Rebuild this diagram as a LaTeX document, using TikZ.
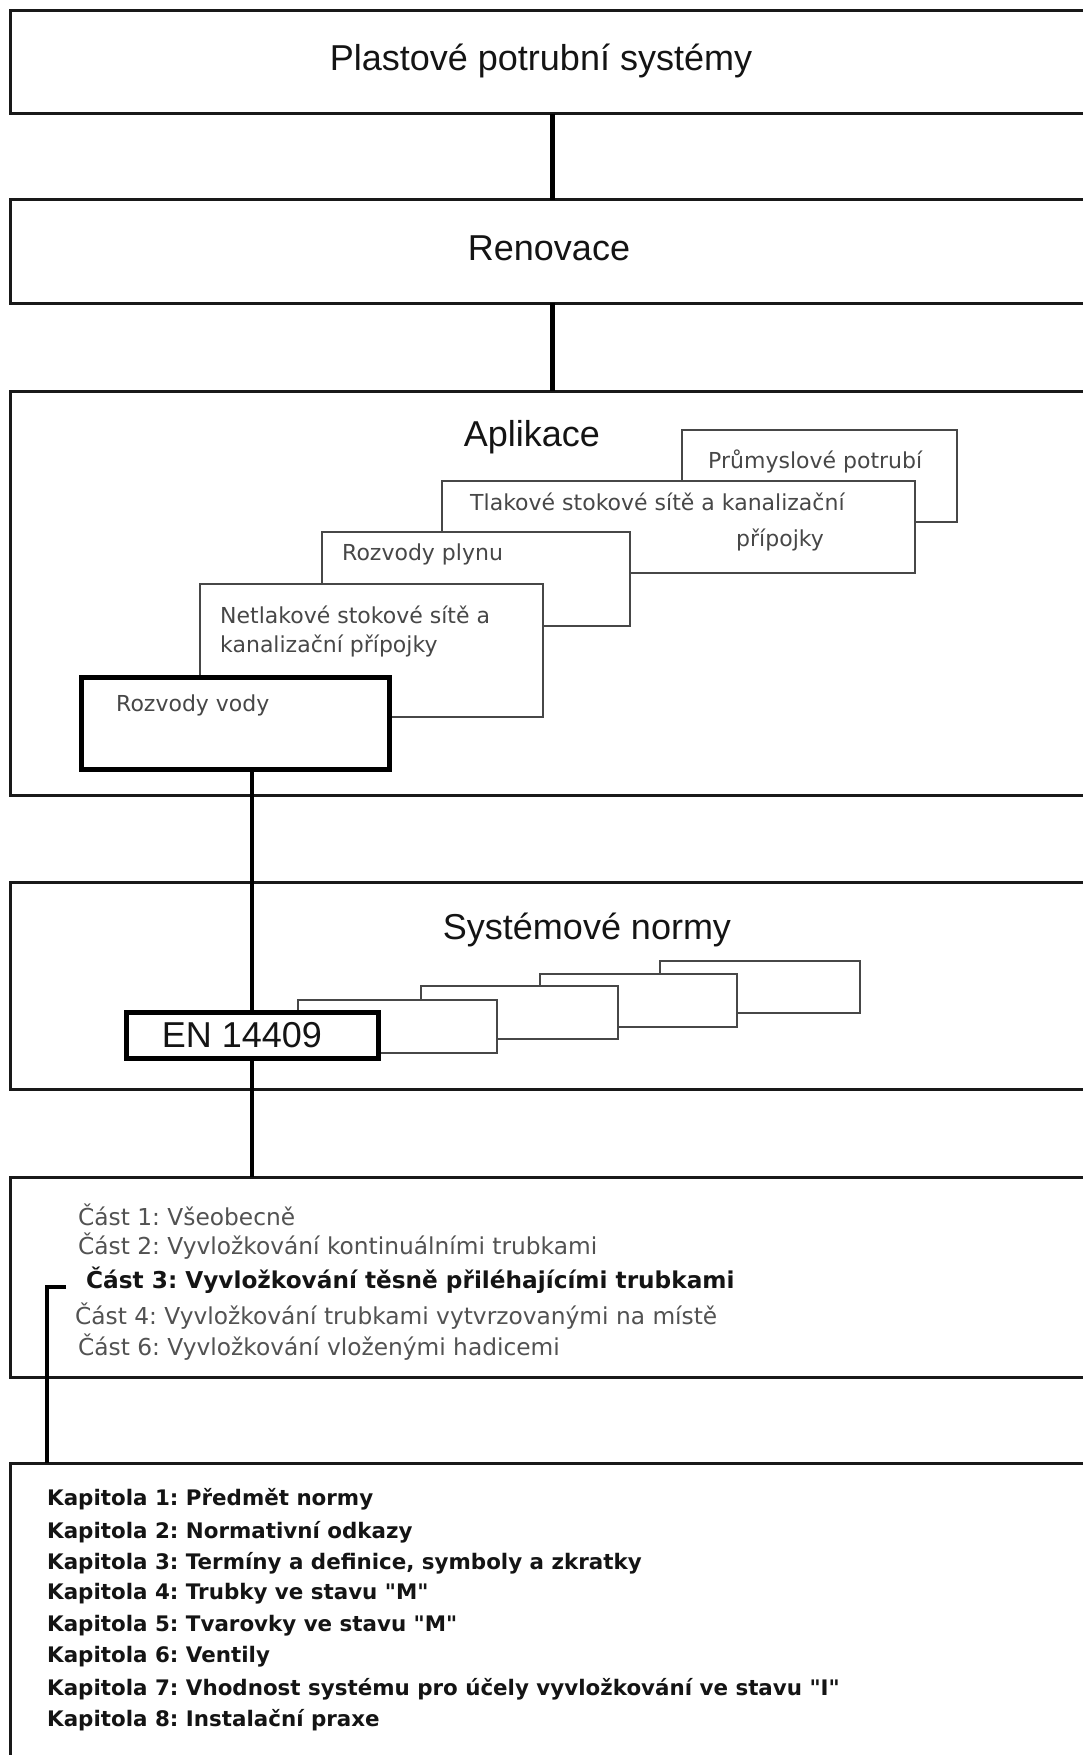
\documentclass[tikz,border=0pt]{standalone}
\usepackage{fontspec}
\setmainfont{Liberation Sans}
\newfontfamily\dvs{DejaVu Sans}
\frenchspacing
\begin{document}
\begin{tikzpicture}[x=1pt,y=-1pt,
  mainbox/.style={draw=black!90, line width=3, fill=white, anchor=north west, inner sep=0, outer sep=0},
  subbox/.style={draw=black!72, line width=2, fill=white, anchor=north west, inner sep=0, outer sep=0},
  keybox/.style={draw=black, line width=5, fill=white, anchor=north west, inner sep=0, outer sep=0},
  conn/.style={line width=4.5, black},
  title/.style={font=\fontsize{36}{40}\selectfont, text=black!92, inner sep=0},
  sublab/.style={font=\dvs\fontsize{22}{26}\selectfont, text=black!72, anchor=west, inner sep=0},
  castlab/.style={font=\dvs\fontsize{23.3}{27}\selectfont, text=black!68, anchor=west, inner sep=0},
  castbold/.style={font=\dvs\bfseries\fontsize{23.2}{27}\selectfont, text=black!92, anchor=west, inner sep=0},
  kaplab/.style={font=\dvs\bfseries\fontsize{21.4}{24}\selectfont, text=black!92, anchor=west, inner sep=0}]
\useasboundingbox (0,0) rectangle (1083,1755);
\clip (0,0) rectangle (1083,1755);
\fill[white] (0,0) rectangle (1083,1755);

% main boxes
\node[mainbox, minimum width=1085, minimum height=103] (b1) at (10,11) {};
\node[mainbox, minimum width=1085, minimum height=103] (b2) at (10,200) {};
\node[mainbox, minimum width=1085, minimum height=404] (b3) at (10,391) {};
\node[mainbox, minimum width=1085, minimum height=207] (b4) at (10,882) {};
\node[mainbox, minimum width=1085, minimum height=200] (b5) at (10,1177) {};
\node[mainbox, minimum width=1085, minimum height=320] (b6) at (10,1463) {};

\node[title] (t1) at (541,61) {Plastové potrubní systémy};
\node[title] (t2) at (549,248) {Renovace};
\node[title] (t3) at (532,437) {Aplikace};
\node[title] (t4) at (587,930) {Systémové normy};

% application boxes (back to front)
\node[subbox, minimum width=275, minimum height=92] (prum) at (682,430) {};
\node[sublab] (prumt) at (708,461) {Průmyslové potrubí};
\node[subbox, minimum width=473, minimum height=92] (tlak) at (442,481) {};
\node[sublab] (tlakt1) at (470,502) {Tlakové stokové sítě a kanalizační};
\node[sublab, anchor=center] (tlakt2) at (780,540) {přípojky};
\node[subbox, minimum width=308, minimum height=94] (plyn) at (322,532) {};
\node[sublab] (plynt) at (342,554) {Rozvody plynu};
\node[subbox, minimum width=343, minimum height=133] (netl) at (200,584) {};
\node[sublab] (netlt1) at (220,615) {Netlakové stokové sítě a};
\node[sublab] (netlt2) at (220,646) {kanalizační přípojky};
\node[keybox, minimum width=308, minimum height=92] (voda) at (81,677) {};
\node[sublab] (vodat) at (116,705) {Rozvody vody};

% system standards boxes (back to front)
\node[subbox, minimum width=200, minimum height=52] (sa) at (660,961) {};
\node[subbox, minimum width=197, minimum height=53] (sb) at (540,974) {};
\node[subbox, minimum width=197, minimum height=53] (sc) at (421,986) {};
\node[subbox, minimum width=199, minimum height=53] (sd) at (298,1000) {};
\node[keybox, minimum width=252, minimum height=46] (en) at (126,1012) {};
\node[title] (ent) at (242,1035) {EN 14409};

% parts
\node[castlab] (c1) at (78,1215) {Část 1: Všeobecně};
\node[castlab] (c2) at (78,1246) {Část 2: Vyvložkování kontinuálními trubkami};
\node[castbold] (c3) at (86,1280) {Část 3: Vyvložkování těsně přiléhajícími trubkami};
\node[castlab] (c4) at (75,1316) {Část 4: Vyvložkování trubkami vytvrzovanými na místě};
\node[castlab] (c6) at (78,1347) {Část 6: Vyvložkování vloženými hadicemi};

% chapters
\node[kaplab] (k1) at (47,1499) {Kapitola 1: Předmět normy};
\node[kaplab] (k2) at (47,1532) {Kapitola 2: Normativní odkazy};
\node[kaplab] (k3) at (47,1563) {Kapitola 3: Termíny a definice, symboly a zkratky};
\node[kaplab] (k4) at (47,1594) {Kapitola 4: Trubky ve stavu "M"};
\node[kaplab] (k5) at (47,1626) {Kapitola 5: Tvarovky ve stavu "M"};
\node[kaplab] (k6) at (47,1657) {Kapitola 6: Ventily};
\node[kaplab] (k7) at (47,1689) {Kapitola 7: Vhodnost systému pro účely vyvložkování ve stavu "I"};
\node[kaplab] (k8) at (47,1720) {Kapitola 8: Instalační praxe};

% connectors
\draw[conn] (b1.south) -- (b2.north);
\draw[conn] (b2.north |- b2.south) -- (b3.north);
\draw[conn] (voda.south -| en.north) -- (en.north);
\draw[conn] (en.south) -- (en.south |- b5.north);
\coordinate (stub) at (66,1287);
\coordinate (brk) at (47,1463);
\draw[conn] (stub) -| (brk);
\end{tikzpicture}
\end{document}
